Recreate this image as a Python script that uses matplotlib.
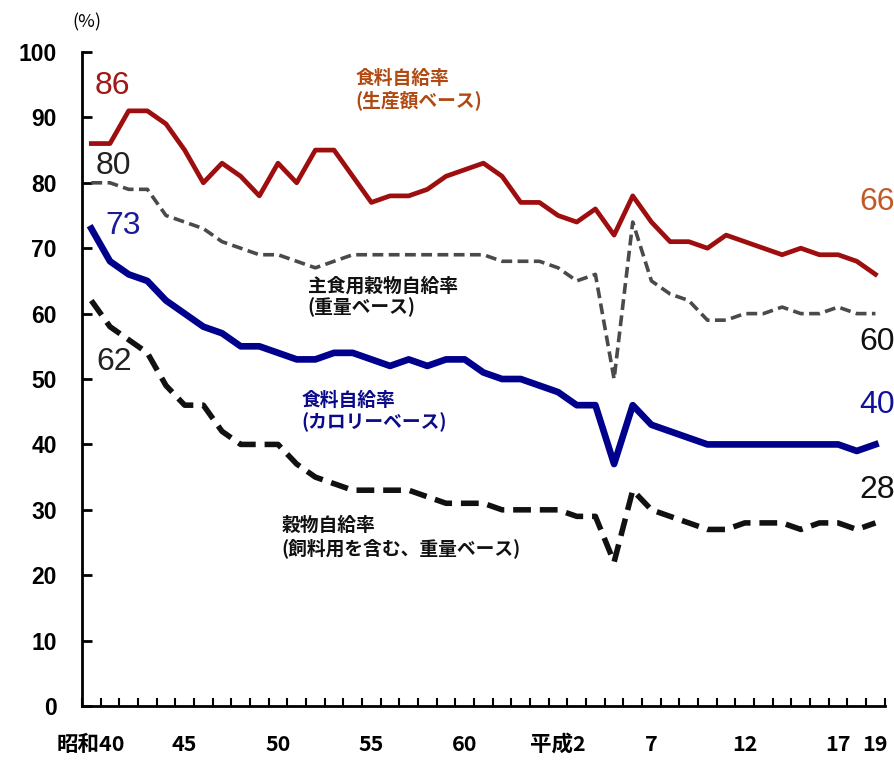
import matplotlib
matplotlib.use("Agg")
import matplotlib.pyplot as plt
import numpy as np

plt.rcParams['font.family'] = ['Noto Sans CJK JP', 'DejaVu Sans']

years = list(range(1965, 2008))
tick_pos = [0, 5, 10, 15, 20, 25, 30, 35, 40, 42]
tick_labels = ["昭和40", "45", "50", "55", "60", "平成2", "7", "12", "17", "19"]

production_value = [86, 86, 91, 91, 89, 85, 80, 83, 81, 78, 83, 80, 85, 85, 81,
                     77, 78, 78, 79, 81, 82, 83, 81, 77, 77, 75, 74, 76, 72, 78,
                     74, 71, 71, 70, 72, 71, 70, 69, 70, 69, 69, 68, 66]
staple_grain = [80, 80, 79, 79, 75, 74, 73, 71, 70, 69, 69, 68, 67, 68, 69,
                69, 69, 69, 69, 69, 69, 69, 68, 68, 68, 67, 65, 66, 50, 74,
                65, 63, 62, 59, 59, 60, 60, 61, 60, 60, 61, 60, 60]
calorie = [73, 68, 66, 65, 62, 60, 58, 57, 55, 55, 54, 53, 53, 54, 54,
           53, 52, 53, 52, 53, 53, 51, 50, 50, 49, 48, 46, 46, 37, 46,
           43, 42, 41, 40, 40, 40, 40, 40, 40, 40, 40, 39, 40]
cereal = [62, 58, 56, 54, 49, 46, 46, 42, 40, 40, 40, 37, 35, 34, 33,
          33, 33, 33, 32, 31, 31, 31, 30, 30, 30, 30, 29, 29, 22, 33,
          30, 29, 28, 27, 27, 28, 28, 28, 27, 28, 28, 27, 28]

fig = plt.figure(figsize=(8.95, 7.6), dpi=100)
ax = fig.add_axes([0.0916, 0.071, 0.897, 0.8606])
x = np.arange(len(years))

ax.plot(x, production_value, color="#9E0E0E", lw=3.4)
ax.plot(x, staple_grain, color="#4A4A4A", lw=2.6, linestyle=(0, (3.0, 1.5)))
ax.plot(x, calorie, color="#00008C", lw=4.8)
ax.plot(x, cereal, color="#111111", lw=4.0, linestyle=(0, (3.2, 1.6)))

ax.set_xlim(-0.45, 42.5)
ax.set_ylim(0, 100)
ax.spines['top'].set_visible(False)
ax.spines['right'].set_visible(False)
ax.spines['left'].set_linewidth(2)
ax.spines['bottom'].set_linewidth(2)

ax.set_yticks(range(0, 101, 10))
ax.set_yticklabels([str(v) for v in range(0, 101, 10)], fontsize=16.5,
                   fontweight='bold', family=['Liberation Sans', 'DejaVu Sans'])
ax.tick_params(axis='y', direction='in', length=7, width=2, pad=18)

ax.set_xticks(tick_pos)
ax.set_xticklabels(tick_labels, fontsize=15.5, fontweight='bold')
ax.set_xticks(np.arange(-0.5, 42.6, 1.0), minor=True)
ax.tick_params(axis='x', which='major', length=0, pad=20)
ax.tick_params(axis='x', which='minor', direction='in', length=6, width=1.5)

def fx(px):
    return -0.5 + (px - 82) / 18.7

def fy(py):
    return (706 - py) / 6.54

ax.text(fx(72), fy(22), "(%)", fontsize=13, ha='left', va='center', clip_on=False)

numfont = ['Liberation Sans', 'DejaVu Sans']
ax.text(fx(95), fy(86), "86", color="#A01818", fontsize=23, family=numfont, va='center')
ax.text(fx(96), fy(166), "80", color="#222222", fontsize=23, family=numfont, va='center')
ax.text(fx(105), fy(226), "73", color="#1A1A9A", fontsize=23, family=numfont, va='center')
ax.text(fx(96), fy(362), "62", color="#222222", fontsize=23, family=numfont, va='center')
ax.text(fx(896), fy(202), "66", color="#C25A28", fontsize=23, family=numfont, va='center', ha='right', clip_on=False)
ax.text(fx(896), fy(342), "60", color="#111111", fontsize=23, family=numfont, va='center', ha='right', clip_on=False)
ax.text(fx(896), fy(405), "40", color="#10109A", fontsize=23, family=numfont, va='center', ha='right', clip_on=False)
ax.text(fx(896), fy(490), "28", color="#111111", fontsize=23, family=numfont, va='center', ha='right', clip_on=False)

ax.text(fx(356), fy(90), "食料自給率\n(生産額ベース)", color="#B04A12", fontsize=13.5,
        fontweight='bold', va='center', ha='left', linespacing=1.15)
ax.text(fx(308), fy(297), "主食用穀物自給率\n(重量ベース)", color="#111111", fontsize=13.5,
        fontweight='bold', va='center', ha='left', linespacing=1.15)
ax.text(fx(302), fy(412), "食料自給率\n(カロリーベース)", color="#0A0A8A", fontsize=13.5,
        fontweight='bold', va='center', ha='left', linespacing=1.15)
ax.text(fx(282), fy(537), "穀物自給率\n(飼料用を含む、重量ベース)", color="#111111", fontsize=13.5,
        fontweight='bold', va='center', ha='left', linespacing=1.15)

fig.savefig("out.png", dpi=100)
